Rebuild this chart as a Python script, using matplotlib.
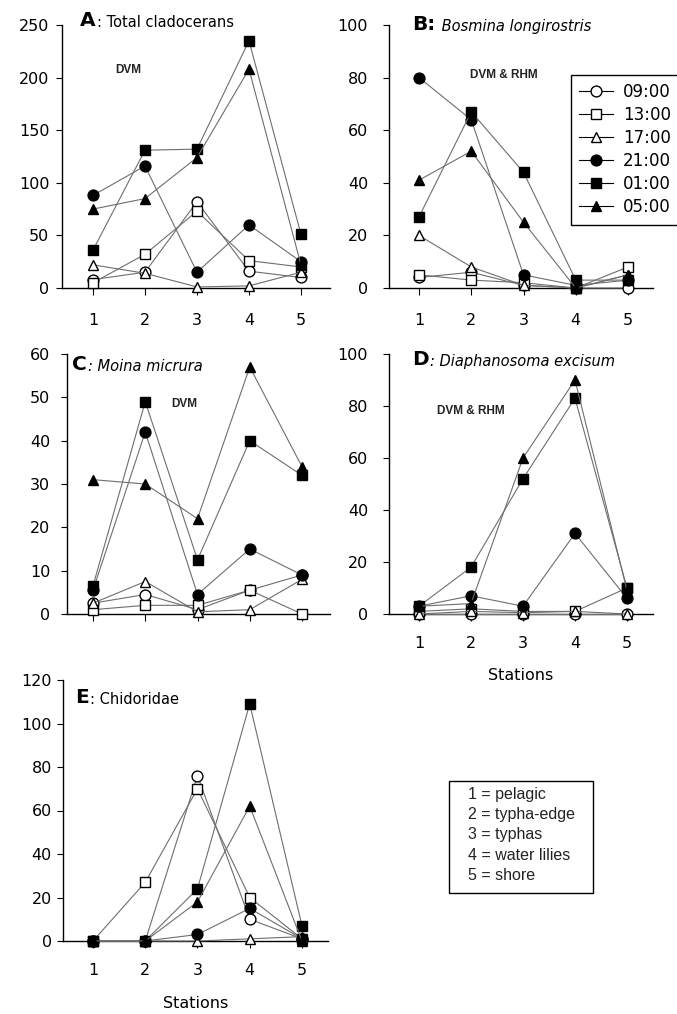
import matplotlib
matplotlib.use('Agg')
import matplotlib.pyplot as plt
from matplotlib.patches import Rectangle

# ---------------- data ----------------
stations = [1, 2, 3, 4, 5]
times = ['09:00', '13:00', '17:00', '21:00', '01:00', '05:00']
station_names = ['1 = pelagic', '2 = typha-edge', '3 = typhas', '4 = water lilies', '5 = shore']

# rows follow `times`
total_cladocerans = [
    [8, 15, 82, 16, 10],
    [5, 32, 73, 26, 20],
    [22, 14, 1, 2, 15],
    [88, 116, 15, 60, 25],
    [36, 131, 132, 235, 51],
    [75, 85, 124, 208, 22],
]
bosmina = [
    [4, 6, 1, 0, 0],
    [5, 3, 2, 0, 8],
    [20, 8, 1, 0, 5],
    [80, 64, 5, 1, 3],
    [27, 67, 44, 3, 3],
    [41, 52, 25, 0, 5],
]
moina = [
    [2.5, 4.5, 1, 5.5, 9],
    [1, 2, 2, 5.5, 0],
    [2.5, 7.5, 0.5, 1, 8],
    [5.5, 42, 4.5, 15, 9],
    [6.5, 49, 12.5, 40, 32],
    [31, 30, 22, 57, 34],
]
diaphanosoma = [
    [0, 0, 0, 0, 0],
    [1, 2, 1, 1, 10],
    [0, 1, 0.5, 1, 0],
    [3, 7, 3, 31, 6],
    [3, 18, 52, 83, 10],
    [3, 4, 60, 90, 9],
]
chidoridae = [
    [0, 0, 76, 10, 1],
    [0, 27, 70, 20, 1],
    [0, 0, 0, 1, 2],
    [0, 0, 3, 15, 1],
    [0, 0, 24, 109, 7],
    [0, 0, 18, 62, 0],
]

# ---------------- style ----------------
W, H = 677, 1014
fig = plt.figure(figsize=(W / 100, H / 100), dpi=100)
markers = ['o', 's', '^', 'o', 's', '^']
filled = [False, False, False, True, True, True]
LINEC = '#6e6e6e'


def add_axes(left, right, top, bottom):
    return fig.add_axes([left / W, 1 - bottom / H, (right - left) / W, (bottom - top) / H])


def draw(ax, data, ymax, yticks, xlim, ypad, xlabels=True, xpad=13):
    for i, row in enumerate(data):
        ax.plot(stations, row, color=LINEC, lw=0.8, marker=markers[i], ms=7.8,
                mfc='black' if filled[i] else 'white', mec='black', mew=1.0,
                clip_on=False, zorder=3 + i, label=times[i])
    ax.set_ylim(0, ymax)
    ax.set_xlim(*xlim)
    ax.set_yticks(yticks)
    ax.set_xticks(stations)
    ax.set_xticklabels([str(s) for s in stations] if xlabels else [])
    for s in ['top', 'right']:
        ax.spines[s].set_visible(False)
    for s in ['left', 'bottom']:
        ax.spines[s].set_linewidth(1.0)
        ax.spines[s].set_color('black')
    ax.tick_params(axis='y', direction='out', length=4, width=0.8, pad=ypad,
                   labelsize=11.5, colors='black')
    ax.tick_params(axis='x', direction='out', length=5, width=0.8, pad=xpad,
                   labelsize=11.5, colors='black')
    ax.patch.set_visible(False)


def title(ax, letter, rest, x, y, italic=False):
    t = ax.text(x, y, letter, transform=ax.transAxes, fontsize=14.5, fontweight='bold',
                ha='left', va='baseline', family='DejaVu Sans')
    ax.annotate(rest, xy=(1, 0), xycoords=t, xytext=(1, 0), textcoords='offset points',
                fontsize=10.5, style='italic' if italic else 'normal',
                ha='left', va='bottom', family='DejaVu Sans')


def note(ax, txt, x, y):
    ax.text(x, y, txt, transform=ax.transAxes, fontsize=8.5, fontweight='bold',
            family='Liberation Sans', ha='left', va='center', color='#222222')


# Panel A
axA = add_axes(62, 330, 25, 288)
draw(axA, total_cladocerans, 250, [0, 50, 100, 150, 200, 250], (0.404, 5.558), ypad=5, xpad=13)
title(axA, 'A', ': Total cladocerans', (80 - 62) / 268, (288 - 26) / 263)
note(axA, 'DVM', (115 - 62) / 268, (288 - 70) / 263)

# Panel B
axB = add_axes(389, 653, 25, 288)
draw(axB, bosmina, 100, [0, 20, 40, 60, 80, 100], (0.426, 5.478), ypad=11, xpad=13)
title(axB, 'B:', ' Bosmina longirostris', (412 - 389) / 264, (288 - 30) / 263, italic=True)
note(axB, 'DVM & RHM', (470 - 389) / 264, (288 - 75) / 263)

# Panel C
axC = add_axes(67, 330, 354, 614)
draw(axC, moina, 60, [0, 10, 20, 30, 40, 50, 60], (0.502, 5.536), ypad=8, xlabels=False)
title(axC, 'C', ': Moina micrura', (72 - 67) / 263, (614 - 370) / 260, italic=True)
note(axC, 'DVM', (171 - 67) / 263, (614 - 404) / 260)

# Panel D
axD = add_axes(389, 653, 354, 614)
draw(axD, diaphanosoma, 100, [0, 20, 40, 60, 80, 100], (0.423, 5.5), ypad=11, xpad=11)
title(axD, 'D', ': Diaphanosoma excisum', (412 - 389) / 264, (614 - 365) / 260, italic=True)
note(axD, 'DVM & RHM', (437 - 389) / 264, (614 - 411) / 260)
axD.set_xlabel('Stations', fontsize=11.5, labelpad=12, family='DejaVu Sans')

# Panel E
axE = add_axes(63, 328, 680, 941)
draw(axE, chidoridae, 120, [0, 20, 40, 60, 80, 100, 120], (0.426, 5.498), ypad=4, xpad=11)
title(axE, 'E', ': Chidoridae', (75 - 63) / 265, (941 - 703) / 261)
axE.set_xlabel('Stations', fontsize=11.5, labelpad=13, family='DejaVu Sans')

# time legend (in panel B)
handles, labels = axB.get_legend_handles_labels()
leg = fig.legend(handles, labels, loc='upper left',
                 bbox_to_anchor=(571 / W, 1 - 75 / H), bbox_transform=fig.transFigure,
                 frameon=True, fancybox=False, edgecolor='black', framealpha=1,
                 prop={'family': 'DejaVu Sans', 'size': 12}, handlelength=2.0,
                 handletextpad=0.6, labelspacing=0.3, borderpad=0.5,
                 borderaxespad=0)
leg.get_frame().set_linewidth(1.0)
for lh in leg.legend_handles:
    lh.set_color('black')
    lh.set_markeredgecolor('black')

# station key box
fig.add_artist(Rectangle((449 / W, 1 - 893 / H), (593 - 449) / W, (893 - 781) / H,
                         transform=fig.transFigure, fill=False, edgecolor='black', lw=1.0))
for k, name in enumerate(station_names):
    fig.text(468 / W, 1 - (794 + 20.5 * k) / H, name, fontsize=11.5,
             family='Liberation Sans', ha='left', va='center', color='#222222')

fig.savefig('out.png', dpi=100)
